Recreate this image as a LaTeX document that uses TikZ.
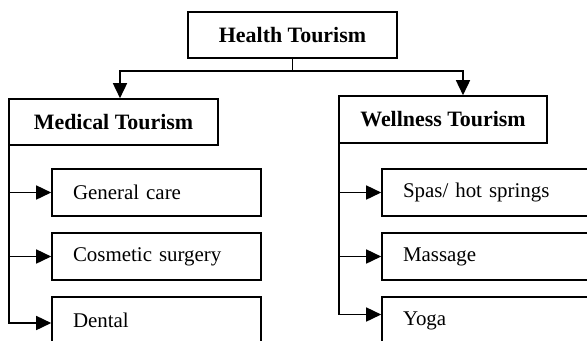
\documentclass[tikz,border=0pt]{standalone}
\usepackage{fontspec}
\setmainfont{Liberation Serif}
\usetikzlibrary{arrows.meta}

\begin{document}
\begin{tikzpicture}[x=1bp,y=-1bp,line width=1.6bp,
  box/.style={draw,minimum width=209bp,minimum height=46bp,inner sep=0pt,
    font=\fontsize{22}{26}\selectfont\bfseries},
  subbox/.style={draw,minimum height=47bp,text width=167bp,inner xsep=21bp,
    inner ysep=0pt,align=left,font=\fontsize{21}{25}\selectfont},
  arr/.style={-{Triangle[length=15bp,width=14bp]}}]

% frame
\useasboundingbox (0,0) rectangle (587,340);
\clip (0,0) rectangle (587,340);

% top level
\node[box] (health) at (292.5,35) {Health Tourism};
\node[box] (medical) at (113.5,122) {Medical Tourism};
\node[box,minimum width=208bp,minimum height=47bp] (wellness) at (443,119.5) {Wellness Tourism};

% medical branch
\node[subbox] (general) at (156.5,192.5) {General care};
\node[subbox] (cosmetic) at (156.5,256.5) {Cosmetic surgery};
\node[subbox] (dental) at (156.5,320.5) {Dental};

% wellness branch
\node[subbox] (spas) at (486.5,192.5) {Spas/ hot springs};
\node[subbox] (massage) at (486.5,256.5) {Massage};
\node[subbox] (yoga) at (486.5,320.5) {Yoga};

% split under the top box
\coordinate (hub) at (292.5,71);
\draw (health.south) -- (hub);
\draw[arr] (hub) -| ([xshift=6.5bp]medical.north);
\draw[arr] (hub) -| ([xshift=20bp]wellness.north);

% left rail
\draw[arr] ([xshift=1bp]medical.south west) |- ([yshift=-2.5bp]dental.west);
\draw[arr] ([xshift=1bp]medical.south west |- general.west) -- (general.west);
\draw[arr] ([xshift=1bp]medical.south west |- cosmetic.west) -- (cosmetic.west);

% right rail
\draw[arr] ([xshift=1bp]wellness.south west) |- ([yshift=6bp]yoga.west);
\draw[arr] ([xshift=1bp]wellness.south west |- spas.west) -- (spas.west);
\draw[arr] ([xshift=1bp]wellness.south west |- massage.west) -- (massage.west);

\end{tikzpicture}
\end{document}
